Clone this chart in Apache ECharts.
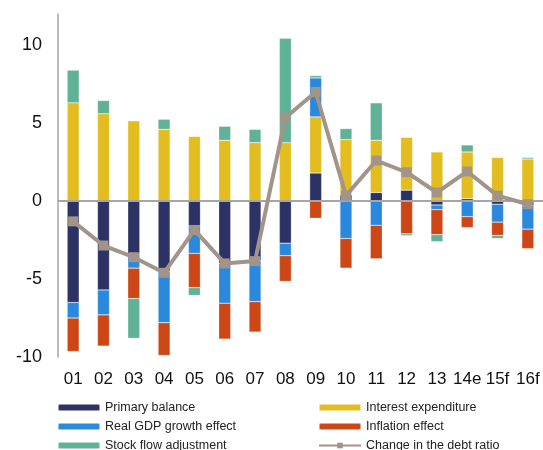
<!DOCTYPE html>
<html>
<head>
<meta charset="utf-8">
<script src="https://cdn.jsdelivr.net/npm/echarts@6/dist/echarts.min.js"></script>
<style>
  html, body { margin: 0; padding: 0; background: #fff; }
  #chart { width: 543px; height: 450px; }
</style>
</head>
<body>
<div id="chart"></div>
<script>
// categories (years)
var categories = ['01', '02', '03', '04', '05', '06', '07', '08', '09', '10', '11', '12', '13', '14e', '15f', '16f'];

// contributions to the change in the debt ratio
var primaryBalance = [-6.5, -5.7, -3.4, -4.5, -1.6, -4.0, -3.8, -2.7, 1.8, 0.4, 0.55, 0.7, -0.25, 0.15, -0.2, -0.3];
var interestExpenditure = [6.3, 5.6, 5.15, 4.6, 4.15, 3.9, 3.75, 3.75, 3.6, 3.55, 3.35, 3.4, 3.15, 3.0, 2.8, 2.7];
var realGdpEffect = [-1.0, -1.6, -0.9, -3.3, -1.75, -2.55, -2.65, -0.8, 2.5, -2.4, -1.55, 0, -0.3, -1.0, -1.15, -1.5];
var inflationEffect = [-2.15, -2.0, -1.95, -2.1, -2.2, -2.3, -1.95, -1.65, -1.1, -1.9, -2.15, -2.1, -1.6, -0.7, -0.85, -1.25];
var stockFlowAdj = [2.1, 0.85, -2.55, 0.65, -0.5, 0.9, 0.85, 6.7, 0.15, 0.7, 2.4, -0.12, -0.45, 0.45, -0.2, 0.1];
var debtRatioChange = [-1.3, -2.85, -3.6, -4.6, -1.85, -4.0, -3.85, 5.35, 7.0, 0.35, 2.6, 1.85, 0.55, 1.9, 0.35, -0.2];

// y axis ticks
var yMin = -10;
var yMax = 12;
var yStep = 5;

var font = 'Liberation Sans, Arial, sans-serif';

function barSeries(name, data, color) {
  return {
    name: name,
    type: 'bar',
    stack: 'total',
    barWidth: 12,
    data: data,
    itemStyle: {
      color: color,
      borderColor: 'rgba(255,255,255,0.5)',
      borderWidth: 0.5
    }
  };
}

function legendColumn(left, names) {
  return {
    orient: 'vertical',
    left: left,
    top: 400,
    height: 60,
    padding: 0,
    itemWidth: 42,
    itemHeight: 7,
    itemGap: 4,
    textStyle: { fontSize: 12.5, lineHeight: 15, color: '#222', fontFamily: font },
    data: names
  };
}

var chart = echarts.init(document.getElementById('chart'));

var option = {
  animation: false,
  textStyle: { fontFamily: font },
  grid: { left: 58, right: 0, top: 14, bottom: 93 },
  legend: [
    legendColumn(57, ['Primary balance', 'Real GDP growth effect', 'Stock flow adjustment']),
    legendColumn(318, ['Interest expenditure', 'Inflation effect', 'Change in the debt ratio'])
  ],
  xAxis: {
    type: 'category',
    data: categories,
    axisLine: { show: false, onZero: false },
    axisTick: { show: false },
    axisLabel: { fontSize: 17, color: '#111', margin: 14, interval: 0 }
  },
  yAxis: {
    type: 'value',
    min: yMin,
    max: yMax,
    interval: yStep,
    axisLine: { show: true, lineStyle: { color: '#a6a6a6', width: 1.5 } },
    axisTick: { show: false },
    splitLine: { show: false },
    axisLabel: { fontSize: 18, color: '#111', margin: 16, showMaxLabel: false }
  },
  series: [
    barSeries('Primary balance', primaryBalance, '#2c3264'),
    barSeries('Interest expenditure', interestExpenditure, '#e3bd20'),
    barSeries('Real GDP growth effect', realGdpEffect, '#2a89dc'),
    barSeries('Inflation effect', inflationEffect, '#cd4716'),
    barSeries('Stock flow adjustment', stockFlowAdj, '#5fb295'),
    {
      name: 'Change in the debt ratio',
      type: 'line',
      data: debtRatioChange,
      symbol: 'rect',
      symbolSize: 10,
      z: 5,
      lineStyle: { color: '#a39489', width: 4 },
      itemStyle: { color: '#a39489' },
      markLine: {
        silent: true,
        symbol: 'none',
        label: { show: false },
        lineStyle: { color: '#a6a6a6', width: 2, type: 'solid' },
        data: [{ yAxis: 0 }]
      }
    }
  ]
};

chart.setOption(option);
</script>
</body>
</html>
